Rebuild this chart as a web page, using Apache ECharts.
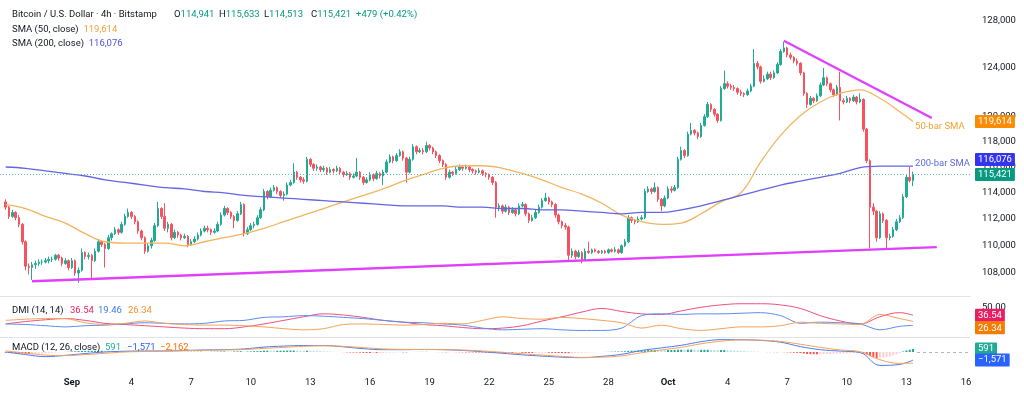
<!DOCTYPE html>
<html>
<head>
<meta charset="utf-8">
<script src="https://cdn.jsdelivr.net/npm/echarts@6.0.0/dist/echarts.min.js"></script>
<style>
html, body { margin: 0; padding: 0; background: #fff; }
#main { width: 1024px; height: 399px; }
</style>
</head>
<body>
<div id="main"></div>
<script>
// BTC/USD 4h bars, Bitstamp, prices in thousands of USD.
// First bar: Aug 28 16:00, last bar: Oct 13 08:00 (days counted from Sep 1 00:00)
var firstOpen = 113.3;
var closes = [
  112.9,112.2,112.5,112.1,111.6,110.3,108.5,108.4,108.6,108.7,
  108.8,108.8,108.9,109.0,109.0,109.3,109.1,108.7,108.9,108.4,
  108.9,108.0,108.2,109.5,109.2,109.3,108.9,109.6,110.3,110.1,
  109.8,110.6,110.9,111.2,111.0,111.6,112.2,112.5,112.2,111.8,
  111.1,110.6,109.6,110.0,110.4,111.5,112.8,112.2,111.3,111.6,
  110.6,111.0,110.8,110.6,110.7,110.1,110.3,110.5,110.8,111.1,
  111.3,111.2,111.0,111.1,111.6,112.3,112.8,112.5,112.2,111.9,
  112.4,113.1,110.9,111.2,111.5,111.6,112.1,112.7,114.1,113.7,
  114.2,114.4,114.1,113.8,113.9,114.6,114.8,115.6,115.2,115.0,
  114.9,116.6,116.2,115.9,116.0,115.8,115.9,115.6,115.8,115.7,
  115.9,115.6,115.4,115.5,115.2,115.3,115.6,115.2,114.8,115.0,
  115.4,115.1,115.5,115.3,115.6,116.4,116.8,116.5,116.9,117.2,
  116.7,115.6,116.6,117.6,117.2,117.3,117.2,117.7,117.5,117.2,
  116.9,116.5,116.2,115.2,115.6,115.5,115.8,116.0,115.9,116.0,
  115.8,115.7,115.6,115.7,115.5,115.4,115.2,114.8,112.9,113.0,
  112.6,112.9,112.5,112.7,112.4,113.0,113.1,112.4,111.9,112.1,
  112.5,112.9,113.4,113.6,113.3,113.1,112.3,111.8,111.5,111.4,
  109.3,109.6,109.2,109.5,109.0,109.6,109.5,109.7,109.6,109.5,
  109.6,109.5,109.7,109.6,109.7,109.5,110.0,110.3,112.1,111.9,
  111.8,112.0,112.1,114.1,114.3,114.1,114.4,113.5,113.0,113.6,
  114.3,114.2,114.4,116.6,117.3,116.9,118.6,118.9,118.7,118.4,
  119.3,120.0,121.0,120.6,120.2,119.7,122.3,122.7,122.5,122.4,
  122.3,122.0,121.9,121.8,122.1,122.5,124.4,124.1,122.9,123.1,
  123.5,123.2,123.6,124.3,125.4,125.7,125.1,124.9,124.6,124.4,
  123.6,121.9,121.0,121.5,121.3,121.7,122.6,123.2,122.7,122.2,
  121.8,122.4,121.3,121.2,121.5,121.3,121.6,121.2,121.4,119.0,
  116.5,112.9,112.6,110.6,112.4,111.9,110.6,110.7,111.2,111.8,
  112.1,113.7,115.2,114.941,115.421
];
var highs = [
  113.5,113.0,112.7,112.6,112.3,111.7,110.4,108.7,108.8,108.9,
  109.0,109.0,109.1,109.2,109.2,109.4,109.4,109.2,109.1,109.0,
  109.1,109.0,108.4,109.8,109.6,109.5,109.4,109.8,110.5,110.4,
  110.2,110.8,111.0,111.4,111.3,111.8,112.4,112.8,112.6,112.3,
  111.9,111.2,110.7,110.2,110.6,111.7,113.3,112.9,113.2,111.8,
  111.7,111.2,111.1,110.9,110.9,110.8,110.5,110.7,111.0,111.3,
  111.5,111.5,111.3,111.3,111.8,112.5,113.0,112.9,112.6,112.3,
  112.6,113.3,113.2,111.4,111.7,111.8,112.3,112.9,114.3,114.2,
  114.4,114.6,114.5,114.2,114.1,114.8,115.0,116.3,115.7,115.3,
  115.2,116.8,116.7,116.3,116.2,116.1,116.1,116.0,116.0,115.9,
  116.1,116.0,115.7,115.7,115.6,115.5,116.7,115.7,115.3,115.2,
  115.6,115.5,115.7,115.6,115.8,116.6,117.0,116.9,117.1,117.4,
  117.3,116.8,116.8,117.8,117.7,117.5,117.5,118.0,117.8,117.6,
  117.3,117.0,116.6,116.3,115.8,115.7,116.0,116.2,116.1,116.2,
  116.1,115.9,115.8,115.9,115.8,115.6,115.5,115.3,114.9,113.2,
  113.1,113.1,113.0,112.9,112.8,113.2,113.3,113.2,112.5,112.3,
  112.7,113.1,113.6,114.0,113.7,113.4,113.2,112.4,111.9,111.7,
  111.5,109.8,109.7,109.7,109.6,109.8,110.3,109.8,109.8,109.7,
  109.7,109.7,109.8,109.8,109.9,109.8,110.1,110.5,112.3,112.2,
  112.0,112.2,112.3,114.3,114.5,114.4,114.8,114.5,113.6,113.8,
  114.5,114.5,114.6,116.8,117.6,117.4,118.8,119.5,119.0,118.8,
  119.5,120.2,121.2,121.1,120.7,120.3,122.5,123.8,122.9,122.7,
  122.6,122.4,122.2,122.0,122.3,122.7,125.6,124.6,124.2,123.4,
  123.7,123.7,123.8,124.5,125.6,126.2,125.8,125.3,125.0,124.8,
  124.5,123.7,122.0,121.7,121.6,121.9,122.8,124.0,123.3,122.8,
  122.3,122.6,123.7,121.5,121.7,121.6,121.8,121.7,121.9,121.5,
  119.1,116.6,113.2,112.7,112.6,112.5,112.0,110.9,111.4,112.0,
  112.3,113.9,115.4,116.0,115.633
];
var lows = [
  112.7,112.0,112.1,111.9,111.4,110.1,108.2,107.9,107.5,108.3,
  108.5,108.6,108.7,108.7,108.8,108.9,108.9,108.5,108.6,108.2,
  108.3,107.8,107.3,108.1,109.0,109.0,107.6,108.8,109.5,109.9,
  108.4,109.7,110.4,110.8,110.8,110.9,111.5,112.1,112.0,111.6,
  110.9,110.4,109.4,109.5,109.8,110.3,111.4,112.0,111.1,111.0,
  110.4,110.5,110.6,110.4,110.5,109.9,110.0,110.2,110.4,110.7,
  111.0,111.0,110.8,110.9,111.0,111.5,112.2,112.3,112.0,111.3,
  111.8,112.3,110.7,110.8,111.1,111.3,111.5,112.0,112.6,113.5,
  113.6,114.1,113.9,113.6,113.4,113.8,114.5,114.7,115.0,114.8,
  114.7,114.8,116.0,115.7,115.7,115.6,115.6,115.4,115.5,115.5,
  115.6,115.4,115.2,115.3,115.0,115.1,115.2,115.0,114.6,114.7,
  114.9,114.9,115.0,115.1,114.6,115.5,116.3,116.3,116.4,116.8,
  116.5,114.8,115.5,116.5,117.0,117.1,117.0,117.1,117.3,117.0,
  116.7,116.3,116.0,115.0,115.1,115.3,115.4,115.7,115.7,115.8,
  115.6,115.5,115.4,115.5,115.3,115.2,115.0,114.6,112.1,112.6,
  112.4,112.5,112.3,112.4,112.2,112.3,112.9,112.2,111.7,111.8,
  112.0,112.4,112.8,113.3,113.1,112.9,112.1,111.6,111.3,111.2,
  108.8,109.1,109.0,109.1,108.7,108.9,109.4,109.4,109.5,109.4,
  109.4,109.4,109.4,109.5,109.5,109.4,109.4,109.9,110.2,111.7,
  111.6,111.7,111.9,112.0,114.0,113.9,114.0,113.3,112.6,112.9,
  113.5,114.0,114.1,114.3,116.5,116.7,116.8,118.5,118.5,118.2,
  118.3,119.2,119.9,120.4,120.0,119.5,119.6,122.2,122.3,122.2,
  122.1,121.8,121.7,121.6,121.7,122.0,122.4,123.9,122.7,122.8,
  123.0,123.0,123.1,123.5,124.2,125.3,124.9,124.7,124.4,124.2,
  123.4,121.7,120.7,120.9,121.1,121.2,121.6,122.5,122.5,122.0,
  121.6,121.7,119.7,121.0,121.1,121.1,121.2,121.0,121.1,118.8,
  116.3,109.8,112.3,110.3,110.5,111.7,109.8,110.4,110.6,111.1,
  111.7,112.0,113.6,114.8,114.513
];

// indicator readings, one per day (every 6th bar) plus the last bar
var sma50 = [
  113.1,112.8,112.2,111.7,110.9,110.3,110.2,110.2,110.2,110.0,
  110.3,110.6,110.9,111.3,111.8,112.3,112.8,113.3,113.8,114.3,
  114.9,115.4,115.9,116.1,116.1,115.9,115.5,115.0,114.4,113.9,
  113.2,112.3,111.8,111.6,111.7,112.4,113.3,114.0,116.4,118.5,
  120.1,121.2,121.9,122.2,121.5,120.4,119.614
];
var sma200 = [
  116.0,115.9,115.7,115.5,115.3,115.0,114.8,114.6,114.4,114.3,
  114.1,114.0,113.8,113.7,113.6,113.5,113.4,113.3,113.2,113.1,
  113.0,113.0,113.0,112.9,112.9,112.8,112.8,112.7,112.7,112.6,
  112.5,112.4,112.5,112.5,112.7,113.0,113.4,113.8,114.2,114.6,
  114.9,115.2,115.5,115.95,116.07,116.07,116.076
];
var adx = [
  22,26,29,31,28,23,21,19,17,15, 14,14,17,22,28,34,39,37,33,28,
  25,21,19,16,14,15,19,27,34,42, 48,43,39,38,44,50,54,56,56,54,
  48,36,27,22,34,41,36.54
];
var plusDI = [
  22,21,19,17,19,20,22,24,23,22, 23,27,28,33,34,36,35,33,31,28,
  25,24,22,20,15,12,13,14,12,11, 11,15,36,39,38,39,39,40,41,36,
  23,25,24,22,12,18,19.46
];
var minusDI = [
  28,30,31,31,24,21,23,27,23,21, 20,20,19,17,14,12,14,21,22,21,
  20,21,23,22,28,34,31,30,33,31, 28,24,15,20,14,11,14,17,17,19,
  25,23,22,21,38,31,26.34
];
var macdLine = [
  0,-500,-900,-650,-300,0,150,200,200,300,
  400,450,600,950,1150,1250,1250,1000,650,450,
  450,500,450,300,50,-250,-550,-800,-1000,-1100,
  -850,-450,300,800,1300,2000,2400,2380,2250,1900,
  1050,450,180,-100,-2600,-2400,-1571
];
var macdSignal = [
  200,-200,-600,-700,-500,-250,0,100,180,250,
  330,400,480,700,900,1100,1200,1100,850,600,
  500,480,470,380,200,-50,-350,-600,-850,-1050,
  -1000,-750,-150,400,900,1600,2100,2350,2300,2050,
  1500,900,400,50,-1500,-2200,-2162
];
// MACD histogram, one per bar
var macdHist = [
  -150,-180,-200,-250,-280,-300, -350,-380,-350,-320,-300,-280,
  -250,-200,-150,-100,-50,0, 30,60,100,150,170,200,
  200,220,230,240,250,250, 240,230,210,190,170,150,
  140,130,120,110,100,90, 70,50,60,80,100,90,
  60,30,10,20,30,40, 40,50,60,60,70,70,
  60,50,50,60,80,100, 120,110,100,110,130,150,
  80,90,120,150,170,200, 260,260,250,240,240,250,
  250,260,280,280,260,240, 220,250,240,200,170,150,
  120,100,80,50,20,0, -30,-60,-90,-100,-110,-130,
  -160,-180,-200,-190,-190,-180, -170,-140,-110,-100,-80,-60,
  -60,-70,-40,0,20,30, 30,40,20,0,-10,-30,
  -40,-60,-50,-40,-40,-50, -60,-70,-80,-80,-90,-100,
  -110,-120,-130,-140,-190,-200, -210,-210,-200,-200,-190,-180,
  -180,-190,-200,-200,-190,-180, -170,-160,-160,-170,-180,-200,
  -210,-230,-230,-220,-200,-170, -150,-120,-100,-80,-60,-30,
  0,20,40,60,80,100, 120,150,220,250,260,260,
  270,330,380,400,420,400, 380,370,380,390,400,450,
  450,430,460,460,440,420, 420,430,440,420,390,370,
  380,380,350,320,290,250, 200,160,120,100,80,60,
  20,0,-20,-30,-40,-50, -40,-40,-70,-100,-130,-160,
  -200,-300,-380,-420,-440,-450, -440,-420,-400,-380,-350,-320,
  -300,-280,-250,-220,-200,-180, -160,-250,-450,-800,-1000,-1200,
  -1100,-1050,-1000,-850,-650,-450, -200,100,300,450,591
];

// drawn trendlines: [day, price in thousands]
var lowerTrend = [[-2.01, 107.4], [43.53, 109.9]];
var upperTrend = [[35.83, 126.3], [43.28, 119.9]];

var priceTicks = [108000, 110000, 112000, 114000, 116000, 118000, 120000, 124000, 128000];
var dayTicks = [0, 3, 6, 9, 12, 15, 18, 21, 24, 27, 30, 33, 36, 39, 42, 45];
var dayLabels = ['Sep', '4', '7', '10', '13', '16', '19', '22', '25', '28', 'Oct', '4', '7', '10', '13', '16'];

var K = 1000;
var firstBarDay = -10 / 3;
var barsPerDay = 6;
var FONT = 'Roboto, "Liberation Sans", sans-serif';
var FS = 9.5;
var TEXT = '#131722';
var UP = '#22ab94', DOWN = '#f7525f';

function barDay(i) { return firstBarDay + i / barsPerDay; }

var sampleBars = [];
for (var k = 0; k * barsPerDay < closes.length - 1; k++) sampleBars.push(k * barsPerDay);
sampleBars.push(closes.length - 1);

var candles = closes.map(function (c, i) {
  var o = i === 0 ? firstOpen : closes[i - 1];
  return [barDay(i), o * K, c * K, lows[i] * K, highs[i] * K];
});

function sampled(vals, scale) {
  return vals.map(function (v, j) { return [barDay(sampleBars[j]), v * scale]; });
}
function trend(pts) {
  return pts.map(function (p) { return [p[0], p[1] * K]; });
}

var histData = macdHist.map(function (v, i) {
  var prev = i > 0 ? macdHist[i - 1] : v;
  var c;
  if (v >= 0) c = v >= prev ? '#26a69a' : '#b2dfdb';
  else c = v <= prev ? '#ff5252' : '#ffcdd2';
  return { value: [barDay(i), v], itemStyle: { color: c } };
});

function tag(value, text, bg, vAlign, lineStyle) {
  return {
    silent: true,
    symbol: ['none', 'none'],
    animation: false,
    lineStyle: lineStyle || { color: 'transparent', width: 0 },
    label: {
      position: 'end', formatter: text, color: '#ffffff', backgroundColor: bg,
      padding: [2, 3, 1, 3], fontSize: FS, fontFamily: FONT, distance: 5,
      verticalAlign: vAlign || 'middle', borderRadius: 1
    },
    emphasis: { disabled: true },
    data: [{ yAxis: value }]
  };
}

function head(left, top, text, rich) {
  var base = { color: TEXT, fontSize: FS, fontFamily: FONT, fontWeight: 'normal' };
  var r = {};
  for (var key in rich || {}) {
    r[key] = { color: rich[key], fontSize: FS, fontFamily: FONT };
  }
  base.rich = r;
  return { left: left, top: top, padding: 0, text: text, textStyle: base };
}

var GREEN = '#089981';
var titles = [
  head(12, 9.5, 'Bitcoin / U.S. Dollar · 4h · Bitstamp'),
  head(174, 9.5, 'O{g|114,941}', { g: GREEN }),
  head(219, 9.5, 'H{g|115,633}', { g: GREEN }),
  head(264, 9.5, 'L{g|114,513}', { g: GREEN }),
  head(311, 9.5, 'C{g|115,421}', { g: GREEN }),
  head(356, 9.5, '{g|+479 (+0.42%)}', { g: GREEN }),
  head(12, 24.5, 'SMA (50, close)  {o|119,614}', { o: '#f2a33a' }),
  head(12, 39, 'SMA (200, close)  {b|116,076}', { b: '#5050e0' }),
  head(12, 305.5, 'DMI (14, 14)'),
  head(70, 305.5, '{r|36.54}', { r: '#e91e63' }),
  head(98, 305.5, '{b|19.46}', { b: '#3d7cf0' }),
  head(128, 305.5, '{o|26.34}', { o: '#f5922f' }),
  head(12, 342.5, 'MACD (12, 26, close)'),
  head(105, 342.5, '{t|591}', { t: '#22ab94' }),
  head(127, 342.5, '{b|\u22121,571}', { b: '#2962ff' }),
  head(160, 342.5, '{o|\u22122,162}', { o: '#ff6d00' })
];

var X_MIN = -3.62, X_MAX = 45.2;

// MACD tag plus the dashed zero guide to the right of the last bar
var histMark = tag(591, '591', '#22ab94', 'middle');
histMark.data.push([
  { coord: [barDay(closes.length - 1) + 0.2, 0], lineStyle: { color: '#b2b5be', width: 1, type: [3, 3] }, label: { show: false } },
  { coord: [X_MAX, 0] }
]);

var option = {
  animation: false,
  backgroundColor: '#ffffff',
  textStyle: { fontFamily: FONT },
  title: titles,
  grid: [
    { left: 0, top: 0, width: 970, height: 296 },
    { left: 0, top: 298, width: 970, height: 39 },
    { left: 0, top: 337, width: 970, height: 35 }
  ],
  xAxis: [0, 1, 2].map(function (g) {
    return {
      type: 'value', gridIndex: g, min: X_MIN, max: X_MAX,
      axisLine: { show: g < 2, onZero: false, lineStyle: { color: '#e0e3eb', width: 1 } },
      axisTick: { show: false },
      splitLine: { show: false },
      axisLabel: g === 2 ? {
        customValues: dayTicks, margin: 6, color: TEXT, fontSize: FS, fontFamily: FONT,
        formatter: function (v) {
          var s = dayLabels[dayTicks.indexOf(Math.round(v))] || '';
          return (s === 'Sep' || s === 'Oct') ? '{m|' + s + '}' : s;
        },
        rich: { m: { fontWeight: 'bold', fontSize: FS, fontFamily: FONT, color: TEXT } }
      } : { show: false }
    };
  }),
  yAxis: [
    {
      type: 'log', logBase: 10, gridIndex: 0, position: 'right', min: 106339, max: 129825,
      axisLine: { show: false }, axisTick: { show: false }, splitLine: { show: false },
      axisLabel: {
        customValues: priceTicks, margin: 12, color: TEXT, fontSize: FS, fontFamily: FONT,
        formatter: function (v) { return Math.round(v).toLocaleString('en-US'); }
      }
    },
    {
      type: 'value', gridIndex: 1, position: 'right', min: 0, max: 65.66,
      axisLine: { show: false }, axisTick: { show: false }, splitLine: { show: false },
      axisLabel: {
        customValues: [50], margin: 12, color: TEXT, fontSize: FS, fontFamily: FONT,
        formatter: function (v) { return v.toFixed(2); }
      }
    },
    {
      type: 'value', gridIndex: 2, position: 'right', min: -3883, max: 2913,
      axisLine: { show: false }, axisTick: { show: false }, splitLine: { show: false },
      axisLabel: { show: false }
    }
  ],
  series: [
    {
      name: 'BTCUSD', type: 'candlestick', xAxisIndex: 0, yAxisIndex: 0,
      data: candles, barWidth: 2,
      itemStyle: { color: UP, color0: DOWN, borderColor: UP, borderColor0: DOWN, borderWidth: 1 },
      markLine: tag(115421, '115,421', '#089981', 'middle',
        { color: '#5fb8a8', width: 1, type: [1, 2] })
    },
    {
      name: 'SMA 50', type: 'line', xAxisIndex: 0, yAxisIndex: 0,
      data: sampled(sma50, K), smooth: 0.4, showSymbol: false,
      lineStyle: { color: '#f4b45f', width: 1.3 },
      endLabel: { show: true, formatter: '50-bar SMA', color: '#f0a234', fontSize: FS, fontFamily: FONT, distance: 2, offset: [0, 5] },
      markLine: tag(119614, '119,614', '#fb8c00', 'middle')
    },
    {
      name: 'SMA 200', type: 'line', xAxisIndex: 0, yAxisIndex: 0,
      data: sampled(sma200, K), smooth: 0.4, showSymbol: false,
      lineStyle: { color: '#6464e4', width: 1.3 },
      endLabel: { show: true, formatter: '200-bar SMA', color: '#5b6be0', fontSize: FS, fontFamily: FONT, distance: 2, offset: [0, -2] },
      markLine: tag(116076, '116,076', '#3434f0', 'bottom')
    },
    {
      name: 'Support', type: 'line', xAxisIndex: 0, yAxisIndex: 0,
      data: trend(lowerTrend), showSymbol: false,
      lineStyle: { color: '#e040fb', width: 2.3 }
    },
    {
      name: 'Resistance', type: 'line', xAxisIndex: 0, yAxisIndex: 0,
      data: trend(upperTrend), showSymbol: false,
      lineStyle: { color: '#e040fb', width: 2.3 }
    },
    {
      name: 'ADX', type: 'line', xAxisIndex: 1, yAxisIndex: 1,
      data: sampled(adx, 1), smooth: 0.4, showSymbol: false,
      lineStyle: { color: '#ee4f7c', width: 1 },
      markLine: tag(36.54, '36.54', '#e91e63', 'middle')
    },
    {
      name: '+DI', type: 'line', xAxisIndex: 1, yAxisIndex: 1,
      data: sampled(plusDI, 1), smooth: 0.3, showSymbol: false,
      lineStyle: { color: '#5b8def', width: 1 }
    },
    {
      name: '-DI', type: 'line', xAxisIndex: 1, yAxisIndex: 1,
      data: sampled(minusDI, 1), smooth: 0.3, showSymbol: false,
      lineStyle: { color: '#f5a25d', width: 1 },
      markLine: tag(26.34, '26.34', '#f57c00', 'top')
    },
    {
      name: 'Histogram', type: 'bar', xAxisIndex: 2, yAxisIndex: 2,
      data: histData, barWidth: 2,
      markLine: histMark
    },
    {
      name: 'MACD', type: 'line', xAxisIndex: 2, yAxisIndex: 2,
      data: sampled(macdLine, 1), smooth: 0.4, showSymbol: false,
      lineStyle: { color: '#4a7cf0', width: 1 },
      markLine: tag(-1571, '\u22121,571', '#2962ff', 'middle')
    },
    {
      name: 'Signal', type: 'line', xAxisIndex: 2, yAxisIndex: 2,
      data: sampled(macdSignal, 1), smooth: 0.4, showSymbol: false,
      lineStyle: { color: '#f5a25d', width: 1 }
    }
  ]
};

var chart = echarts.init(document.getElementById('main'));
chart.setOption(option);
</script>
</body>
</html>
